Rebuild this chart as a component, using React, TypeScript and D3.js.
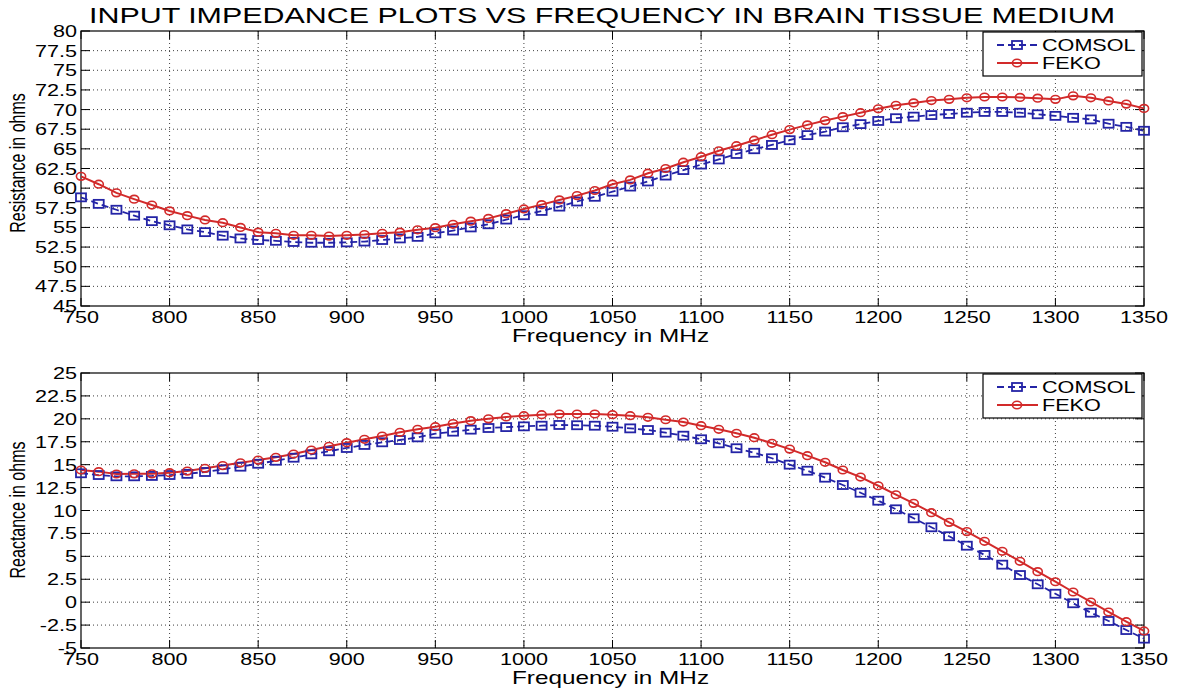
import React from 'react';
import * as d3 from 'd3';

const freqs = [750, 760, 770, 780, 790, 800, 810, 820, 830, 840, 850, 860, 870, 880, 890, 900, 910, 920, 930, 940, 950, 960, 970, 980, 990, 1000, 1010, 1020, 1030, 1040, 1050, 1060, 1070, 1080, 1090, 1100, 1110, 1120, 1130, 1140, 1150, 1160, 1170, 1180, 1190, 1200, 1210, 1220, 1230, 1240, 1250, 1260, 1270, 1280, 1290, 1300, 1310, 1320, 1330, 1340, 1350];

const resComsol = [58.83, 58.0, 57.25, 56.5, 55.8, 55.27, 54.75, 54.4, 53.95, 53.6, 53.4, 53.3, 53.15, 53.05, 53.05, 53.1, 53.2, 53.4, 53.6, 53.8, 54.25, 54.6, 55.0, 55.4, 56.0, 56.55, 57.1, 57.65, 58.3, 58.9, 59.55, 60.2, 60.85, 61.6, 62.3, 63.0, 63.65, 64.35, 64.95, 65.5, 66.1, 66.75, 67.2, 67.75, 68.15, 68.55, 68.9, 69.1, 69.3, 69.45, 69.6, 69.7, 69.7, 69.6, 69.4, 69.2, 68.95, 68.75, 68.2, 67.8, 67.3];
const resFeko = [61.5, 60.5, 59.4, 58.6, 57.85, 57.1, 56.5, 55.95, 55.6, 55.0, 54.4, 54.25, 54.0, 54.0, 53.9, 54.0, 54.1, 54.25, 54.4, 54.7, 54.97, 55.4, 55.8, 56.15, 56.75, 57.35, 57.9, 58.5, 59.05, 59.7, 60.5, 61.05, 61.9, 62.5, 63.3, 64.0, 64.75, 65.4, 66.1, 66.8, 67.45, 68.05, 68.6, 69.1, 69.6, 70.1, 70.55, 70.85, 71.15, 71.3, 71.5, 71.6, 71.6, 71.55, 71.45, 71.3, 71.75, 71.5, 71.1, 70.7, 70.15];

const reactComsol = [14.06, 13.87, 13.73, 13.73, 13.77, 13.87, 14.0, 14.2, 14.49, 14.78, 15.1, 15.43, 15.76, 16.13, 16.46, 16.82, 17.15, 17.44, 17.69, 17.98, 18.38, 18.6, 18.82, 19.0, 19.1, 19.18, 19.25, 19.33, 19.3, 19.25, 19.14, 18.96, 18.78, 18.49, 18.16, 17.77, 17.33, 16.79, 16.3, 15.7, 15.0, 14.34, 13.58, 12.78, 11.94, 11.07, 10.13, 9.15, 8.17, 7.19, 6.16, 5.15, 4.09, 2.96, 1.95, 0.92, -0.12, -1.15, -2.05, -3.04, -3.98];
const reactFeko = [14.42, 14.24, 13.98, 14.0, 14.0, 14.13, 14.3, 14.6, 14.9, 15.2, 15.5, 15.8, 16.16, 16.6, 17.0, 17.4, 17.77, 18.13, 18.53, 18.86, 19.14, 19.48, 19.8, 20.0, 20.2, 20.34, 20.45, 20.53, 20.53, 20.53, 20.45, 20.34, 20.17, 19.9, 19.65, 19.25, 18.86, 18.42, 17.94, 17.33, 16.7, 15.98, 15.26, 14.42, 13.65, 12.7, 11.72, 10.78, 9.76, 8.71, 7.7, 6.64, 5.55, 4.46, 3.33, 2.23, 1.11, 0.02, -1.07, -2.13, -3.14];

const xTicks = [750, 800, 850, 900, 950, 1000, 1050, 1100, 1150, 1200, 1250, 1300, 1350];
const resTicks = [45, 47.5, 50, 52.5, 55, 57.5, 60, 62.5, 65, 67.5, 70, 72.5, 75, 77.5, 80];
const reactTicks = [-5, -2.5, 0, 2.5, 5, 7.5, 10, 12.5, 15, 17.5, 20, 22.5, 25];

const seriesNames = ['COMSOL', 'FEKO'];
const titleText = 'INPUT IMPEDANCE PLOTS VS FREQUENCY IN BRAIN TISSUE MEDIUM';
const xLabelText = 'Frequency in MHz';

const BLUE = '#2424a6';
const RED = '#d22a2a';
const SX = 1.35;
const FONT = 'Liberation Sans, Arial, Helvetica, sans-serif';

function SText({ x, y, anchor = 'middle', size = 16, children }: any) {
  return (
    <text transform={`translate(${x},${y}) scale(${SX},1)`} textAnchor={anchor} fontSize={size} fontFamily={FONT} fill="#000">
      {children}
    </text>
  );
}

function Square({ cx, cy }: any) {
  return <rect x={cx - 5} y={cy - 4} width={10} height={8} fill="none" stroke={BLUE} strokeWidth={1.8} />;
}
function Circ({ cx, cy }: any) {
  return <ellipse cx={cx} cy={cy} rx={4.6} ry={3.8} fill="none" stroke={RED} strokeWidth={1.6} />;
}

function Panel({ top, bottom, yDomain, yTicks, comsol, feko, yLabel, yLabelCenter }: any) {
  const left = 81, right = 1144;
  const x = d3.scaleLinear().domain([750, 1350]).range([left, right]);
  const y = d3.scaleLinear().domain(yDomain).range([bottom, top]);
  const lineC = d3.line<number>().x((_, i) => x(freqs[i])).y((d) => y(d));
  const dC = lineC(comsol) || '';
  const dF = lineC(feko) || '';
  const lgX = right - 161, lgY = top + 1, lgW = 159, lgH = 44;
  return (
    <g>
      {/* grid */}
      {xTicks.slice(1, -1).map((t) => (
        <line key={'gx' + t} x1={x(t)} x2={x(t)} y1={top} y2={bottom} stroke="#000" strokeWidth={1} strokeDasharray="1,3" opacity={0.75} />
      ))}
      {yTicks.slice(1, -1).map((t: number) => (
        <line key={'gy' + t} x1={left} x2={right} y1={y(t)} y2={y(t)} stroke="#000" strokeWidth={1} strokeDasharray="1,3" opacity={0.75} />
      ))}
      {/* ticks */}
      {xTicks.map((t) => (
        <g key={'tx' + t}>
          <line x1={x(t)} x2={x(t)} y1={bottom} y2={bottom - 8} stroke="#000" />
          <line x1={x(t)} x2={x(t)} y1={top} y2={top + 8} stroke="#000" />
          <SText x={x(t)} y={bottom + 17} size={16}>{String(t)}</SText>
        </g>
      ))}
      {yTicks.map((t: number) => (
        <g key={'ty' + t}>
          <line x1={left} x2={left + 9} y1={y(t)} y2={y(t)} stroke="#000" />
          <line x1={right} x2={right - 9} y1={y(t)} y2={y(t)} stroke="#000" />
          <SText x={left - 4} y={y(t) + 6} anchor="end" size={16}>{String(t)}</SText>
        </g>
      ))}
      {/* box */}
      <rect x={left} y={top} width={right - left} height={bottom - top} fill="none" stroke="#000" strokeWidth={1.2} />
      {/* series */}
      <path d={dC} fill="none" stroke={BLUE} strokeWidth={1.8} strokeDasharray="7,4" />
      <path d={dF} fill="none" stroke={RED} strokeWidth={2} />
      {comsol.map((v: number, i: number) => <Square key={'s' + i} cx={x(freqs[i])} cy={y(v)} />)}
      {feko.map((v: number, i: number) => <Circ key={'c' + i} cx={x(freqs[i])} cy={y(v)} />)}
      {/* labels */}
      <SText x={(left + right) / 2 - 2} y={bottom + 36} size={18}>{xLabelText}</SText>
      <text transform={`translate(25,${yLabelCenter}) rotate(-90) scale(1,${SX})`} textAnchor="middle" fontSize={16} fontFamily={FONT}>{yLabel}</text>
      {/* legend */}
      <rect x={lgX} y={lgY} width={lgW} height={lgH} fill="#fff" stroke="#000" strokeWidth={1.2} />
      <line x1={lgX + 14} x2={lgX + 55} y1={lgY + 13} y2={lgY + 13} stroke={BLUE} strokeWidth={1.8} strokeDasharray="7,4" />
      <Square cx={lgX + 34} cy={lgY + 13} />
      <SText x={lgX + 59} y={lgY + 19} anchor="start" size={16}>{seriesNames[0]}</SText>
      <line x1={lgX + 14} x2={lgX + 55} y1={lgY + 31} y2={lgY + 31} stroke={RED} strokeWidth={2} />
      <Circ cx={lgX + 34} cy={lgY + 31} />
      <SText x={lgX + 59} y={lgY + 37} anchor="start" size={16}>{seriesNames[1]}</SText>
    </g>
  );
}

export default function App() {
  return (
    <svg width={1183} height={690} style={{ position: 'absolute', left: 0, top: 0, background: '#fff' }}>
      <rect width={1183} height={690} fill="#fff" />
      <text x={602} y={23} textAnchor="middle" fontSize={22} fontFamily={FONT} textLength={1026} lengthAdjust="spacingAndGlyphs">{titleText}</text>
      <Panel top={31} bottom={306} yDomain={[45, 80]} yTicks={resTicks} comsol={resComsol} feko={resFeko} yLabel="Resistance in ohms" yLabelCenter={163} />
      <Panel top={373} bottom={648} yDomain={[-5, 25]} yTicks={reactTicks} comsol={reactComsol} feko={reactFeko} yLabel="Reactance in ohms" yLabelCenter={510} />
    </svg>
  );
}
